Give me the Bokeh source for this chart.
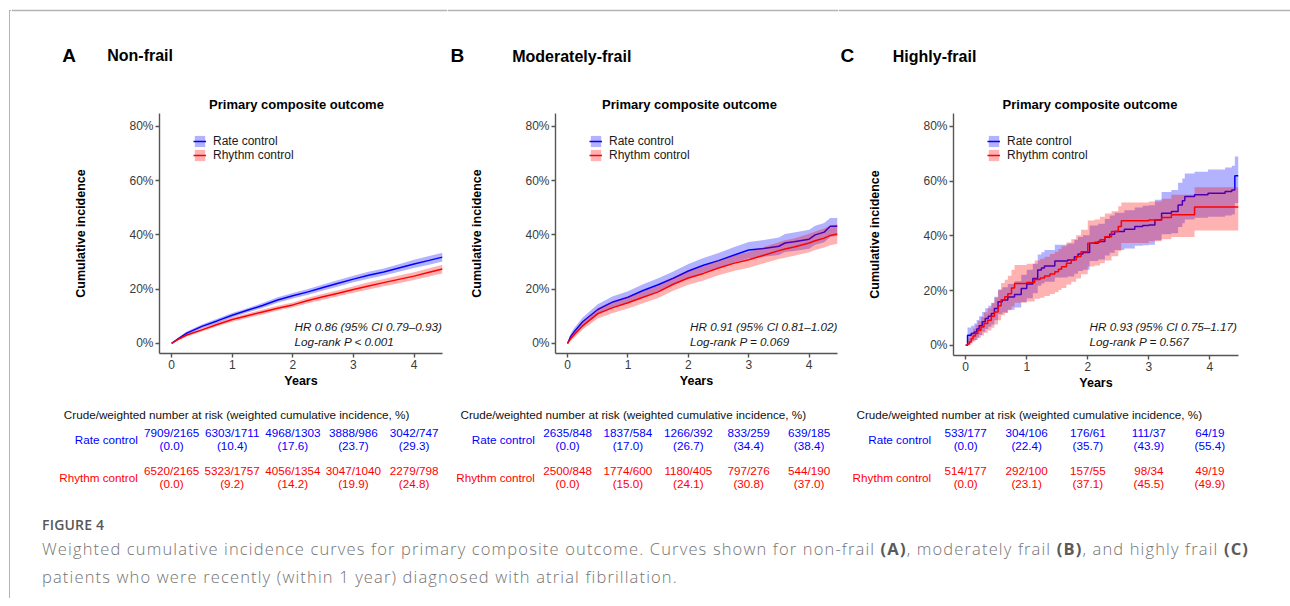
from bokeh.plotting import figure
from bokeh.models import Label, Legend, LegendItem, Div, Range1d, FixedTicker, PrintfTickFormatter, Span
from bokeh.core.properties import value
from bokeh.layouts import row, column
from bokeh.embed import file_html
from bokeh.resources import INLINE

# ---------------- data ----------------
panel_letters = ["A", "B", "C"]
panel_names = ["Non-frail", "Moderately-frail", "Highly-frail"]
plot_title = "Primary composite outcome"
group_names = ["Rate control", "Rhythm control"]
hr_texts = ["HR 0.86 (95% CI 0.79\u20130.93)", "HR 0.91 (95% CI 0.81\u20131.02)", "HR 0.93 (95% CI 0.75\u20131.17)"]
p_texts = ["Log-rank P < 0.001", "Log-rank P = 0.069", "Log-rank P = 0.567"]
x_ticks = [0, 1, 2, 3, 4]
y_ticks = [0, 20, 40, 60, 80]
risk_header = "Crude/weighted number at risk (weighted cumulative incidence, %)"
risk_years = [0, 1, 2, 3, 4]

A_rate_n = ["7909/2165", "6303/1711", "4968/1303", "3888/986", "3042/747"]
A_rate_ci = ["(0.0)", "(10.4)", "(17.6)", "(23.7)", "(29.3)"]
A_rhythm_n = ["6520/2165", "5323/1757", "4056/1354", "3047/1040", "2279/798"]
A_rhythm_ci = ["(0.0)", "(9.2)", "(14.2)", "(19.9)", "(24.8)"]
B_rate_n = ["2635/848", "1837/584", "1266/392", "833/259", "639/185"]
B_rate_ci = ["(0.0)", "(17.0)", "(26.7)", "(34.4)", "(38.4)"]
B_rhythm_n = ["2500/848", "1774/600", "1180/405", "797/276", "544/190"]
B_rhythm_ci = ["(0.0)", "(15.0)", "(24.1)", "(30.8)", "(37.0)"]
C_rate_n = ["533/177", "304/106", "176/61", "111/37", "64/19"]
C_rate_ci = ["(0.0)", "(22.4)", "(35.7)", "(43.9)", "(55.4)"]
C_rhythm_n = ["514/177", "292/100", "157/55", "98/34", "49/19"]
C_rhythm_ci = ["(0.0)", "(23.1)", "(37.1)", "(45.5)", "(49.9)"]

# Panel A (non-frail) curves, % cumulative incidence
A_t = [0, 0.1, 0.25, 0.5, 0.75, 1, 1.25, 1.5, 1.75, 2, 2.25, 2.5, 2.75, 3, 3.25, 3.5, 3.75, 4, 4.25, 4.47]
A_rate = [0, 1.6, 3.8, 6.3, 8.3, 10.4, 12.2, 14.0, 16.0, 17.6, 19.0, 20.6, 22.2, 23.7, 25.1, 26.3, 27.8, 29.3, 30.6, 31.8]
A_rate_lo = [0, 1.2, 3.2, 5.6, 7.5, 9.6, 11.4, 13.1, 15.0, 16.6, 17.9, 19.5, 21.0, 22.5, 23.8, 25.0, 26.4, 27.8, 29.0, 30.2]
A_rate_hi = [0, 2.0, 4.4, 7.0, 9.1, 11.2, 13.0, 14.9, 17.0, 18.6, 20.1, 21.7, 23.4, 24.9, 26.4, 27.6, 29.2, 30.8, 32.2, 33.4]
A_rhythm = [0, 1.4, 3.1, 5.0, 7.0, 8.8, 10.2, 11.6, 13.0, 14.2, 15.8, 17.2, 18.5, 19.9, 21.2, 22.4, 23.6, 24.8, 26.2, 27.4]
A_rhythm_lo = [0, 1.0, 2.6, 4.4, 6.3, 8.0, 9.4, 10.7, 12.1, 13.3, 14.8, 16.1, 17.4, 18.7, 19.9, 21.1, 22.2, 23.4, 24.7, 25.8]
A_rhythm_hi = [0, 1.8, 3.6, 5.6, 7.7, 9.6, 11.0, 12.5, 13.9, 15.1, 16.8, 18.3, 19.6, 21.1, 22.5, 23.7, 25.0, 26.2, 27.7, 29.0]

# Panel B (moderately frail)
B_t = [0, 0.05, 0.1, 0.25, 0.5, 0.75, 1, 1.25, 1.5, 1.75, 2, 2.25, 2.5, 2.75, 3, 3.25, 3.5, 3.6, 3.75, 4, 4.1, 4.25, 4.35, 4.47]
B_rate = [0, 2.5, 4.0, 8.0, 12.5, 15.3, 17.0, 19.5, 21.6, 24.0, 26.7, 28.8, 30.5, 32.5, 34.4, 35.0, 35.8, 37.0, 37.5, 38.4, 40.0, 41.0, 43.2, 43.2]
B_rate_lo = [0, 1.4, 2.6, 6.4, 10.6, 13.2, 14.8, 17.2, 19.2, 21.5, 24.1, 26.1, 27.7, 29.6, 31.4, 31.9, 32.6, 33.7, 34.1, 34.9, 36.4, 37.3, 39.3, 39.6]
B_rate_hi = [0, 3.6, 5.4, 9.6, 14.4, 17.4, 19.2, 21.8, 24.0, 26.5, 29.3, 31.5, 33.3, 35.4, 37.4, 38.1, 39.0, 40.3, 40.9, 41.9, 43.4, 44.4, 46.2, 46.2]
B_rhythm = [0, 1.8, 3.0, 6.5, 11.0, 13.2, 15.0, 17.0, 19.0, 21.8, 24.1, 25.8, 27.8, 29.5, 30.8, 32.5, 34.2, 34.8, 35.5, 37.0, 37.8, 38.8, 39.8, 40.3]
B_rhythm_lo = [0, 0.9, 1.8, 5.1, 9.2, 11.2, 12.9, 14.8, 16.7, 19.4, 21.6, 23.2, 25.1, 26.7, 27.9, 29.5, 31.1, 31.6, 32.3, 33.6, 34.4, 35.3, 36.2, 36.7]
B_rhythm_hi = [0, 2.7, 4.2, 7.9, 12.8, 15.2, 17.1, 19.2, 21.3, 24.2, 26.6, 28.4, 30.5, 32.3, 33.7, 35.5, 37.3, 38.0, 38.7, 40.4, 41.2, 42.3, 43.4, 43.9]

# Panel C (highly frail), step curves
C_rate_t = [0, 0.03, 0.09, 0.14, 0.18, 0.22, 0.27, 0.32, 0.37, 0.42, 0.47, 0.53, 0.60, 0.69, 0.80, 0.91,
            1.00, 1.10, 1.18, 1.24, 1.29, 1.46, 1.67, 1.78, 1.84, 1.92, 2.03, 2.17, 2.28, 2.36, 2.44, 2.60,
            2.77, 2.90, 3.00, 3.10, 3.21, 3.37, 3.48, 3.55, 3.59, 3.75, 3.97, 4.25, 4.36, 4.41, 4.47]
C_rate = [0, 3.7, 4.3, 4.9, 6.0, 7.2, 8.6, 9.8, 10.6, 11.6, 13.5, 15.9, 16.6, 17.7, 18.6, 20.8,
          22.4, 24.4, 27.5, 28.3, 29.0, 30.8, 31.2, 32.4, 33.4, 33.9, 37.3, 37.9, 39.5, 40.6, 41.6, 42.4,
          43.4, 43.8, 44.0, 45.8, 48.3, 48.9, 51.3, 52.8, 54.4, 55.0, 55.6, 56.2, 56.8, 62.0, 62.0]
C_rate_lo = [0, 1.0, 1.5, 2.0, 2.8, 3.8, 5.0, 6.0, 6.8, 7.6, 9.2, 11.4, 12.0, 13.0, 13.8, 15.8,
             17.2, 19.0, 21.8, 22.6, 23.2, 24.8, 25.2, 26.2, 27.2, 27.6, 30.8, 31.4, 32.8, 33.8, 34.8, 35.4,
             36.4, 36.6, 36.8, 38.4, 40.6, 41.0, 43.2, 44.6, 46.0, 46.6, 47.0, 47.4, 47.8, 52.0, 52.0]
C_rate_hi = [0, 6.5, 7.2, 8.0, 9.3, 10.6, 12.2, 13.6, 14.5, 15.6, 17.8, 20.4, 21.2, 22.4, 23.4, 25.8,
             27.6, 29.8, 33.2, 34.0, 34.8, 36.8, 37.2, 38.6, 39.6, 40.2, 43.8, 44.4, 46.2, 47.4, 48.4, 49.4,
             50.4, 51.0, 51.2, 53.2, 56.0, 56.8, 59.4, 61.0, 62.8, 63.4, 64.2, 65.0, 65.6, 69.0, 69.0]
C_rhythm_t = [0, 0.03, 0.06, 0.09, 0.12, 0.16, 0.20, 0.25, 0.30, 0.36, 0.42, 0.47, 0.53, 0.58, 0.64, 0.69,
              0.75, 0.80, 1.00, 1.13, 1.22, 1.29, 1.38, 1.46, 1.52, 1.57, 1.65, 1.73, 1.81, 1.89, 2.00,
              2.11, 2.20, 2.28, 2.39, 2.50, 2.55, 3.00, 3.21, 3.37, 3.75, 4.47]
C_rhythm = [0, 0.5, 1.2, 2.4, 3.4, 4.3, 5.5, 6.7, 8.0, 9.2, 10.6, 12.2, 14.5, 16.7, 17.8, 18.9,
            21.0, 22.6, 23.0, 24.1, 24.6, 25.3, 26.1, 26.9, 27.8, 28.7, 30.0, 31.2, 32.5, 34.2, 37.3,
            37.7, 38.6, 39.7, 41.6, 43.4, 45.5, 45.8, 46.7, 47.7, 50.5, 50.5]
C_rhythm_lo = [0, 0, 0.2, 0.8, 1.4, 2.0, 2.8, 3.6, 4.6, 5.4, 6.4, 7.6, 9.2, 11.0, 11.8, 12.8,
               14.2, 15.6, 16.0, 17.0, 17.4, 18.0, 18.8, 19.4, 20.2, 21.0, 22.2, 23.2, 24.4, 26.0, 28.8,
               29.2, 30.0, 31.0, 32.6, 34.4, 37.4, 38.0, 38.8, 39.6, 42.0, 42.0]
C_rhythm_hi = [0, 2.5, 3.5, 5.0, 6.2, 7.4, 8.8, 10.4, 12.0, 13.6, 15.4, 17.4, 20.2, 22.8, 24.0, 25.4,
               27.6, 29.4, 29.8, 31.0, 31.6, 32.4, 33.4, 34.2, 35.2, 36.2, 37.6, 38.8, 40.2, 42.2, 45.6,
               46.0, 47.0, 48.2, 49.0, 50.8, 52.2, 52.6, 53.6, 55.0, 57.8, 58.0]

# ---------------- styling / layout constants ----------------
BLUE = "#0000FF"
RED = "#FF0000"
FONT = "Liberation Sans"
X0, X1 = -0.2, 4.47
Y0, Y1 = -3.7, 84.7
HEAD_H = 113        # page y 0..113
KM_H = 279          # page y 113..392
TAB_H = 108         # page y 392..500
KM_TOP = 0          # frame top at page y 113

panels = [
    dict(fig_left=11, w=436, bl=148, fw=283, fh=240,
         letter=(61.7, 55), name=(106.7, 55), title=(296.0, 104), hr=294.0,
         header=(63.3, 414), rowlab=137.3, step=False,
         rate=(A_t, A_rate, A_rate_lo, A_rate_hi), rhythm=(A_t, A_rhythm, A_rhythm_lo, A_rhythm_hi),
         risk=(A_rate_n, A_rate_ci, A_rhythm_n, A_rhythm_ci)),
    dict(fig_left=447, w=391, bl=108, fw=282, fh=240,
         letter=(450.0, 55), name=(511.7, 56), title=(689.0, 104), hr=689.5,
         header=(460.0, 414), rowlab=534.3, step=False,
         rate=(B_t, B_rate, B_rate_lo, B_rate_hi), rhythm=(B_t, B_rhythm, B_rhythm_lo, B_rhythm_hi),
         risk=(B_rate_n, B_rate_ci, B_rhythm_n, B_rhythm_ci)),
    dict(fig_left=838, w=452, bl=115, fw=285, fh=242,
         letter=(840.0, 55), name=(892.3, 56), title=(1089.5, 104), hr=1089.0,
         header=(856.0, 414), rowlab=930.7, step=True,
         rate=(C_rate_t, C_rate, C_rate_lo, C_rate_hi), rhythm=(C_rhythm_t, C_rhythm, C_rhythm_lo, C_rhythm_hi),
         risk=(C_rate_n, C_rate_ci, C_rhythm_n, C_rhythm_ci)),
]


def bare_fig(w, h, xr, yr):
    f = figure(width=w, height=h, output_backend="svg", toolbar_location=None,
               x_range=xr, y_range=yr, x_axis_location=None, y_axis_location=None,
               min_border=0, frame_align=False)
    f.min_border_left = f.min_border_right = f.min_border_top = f.min_border_bottom = 0
    f.outline_line_color = None
    f.grid.visible = False
    return f


def add_text(f, xs, ys, texts, size, style="normal", align="left", color="black"):
    f.text(x=xs, y=ys, text=texts, text_font=value(FONT), text_font_size=value(size),
           text_font_style=style, text_align=align, text_baseline="middle", text_color=color)


def make_panel(i, g):
    bl, fw, w = g["bl"], g["fw"], g["w"]
    br = w - bl - fw
    sc = (X1 - X0) / fw
    fl_page = g["fig_left"] + bl

    def dx(px):
        return X0 + (px - fl_page) * sc

    aux_xr = Range1d(X0 - bl * sc, X1 + br * sc)

    # ---- header (panel letter, name, plot title) ----
    head = bare_fig(w, HEAD_H, aux_xr, Range1d(HEAD_H, 0))
    head.add_layout(Span(location=10, dimension="width", line_color="#b4b4b4", line_width=1.5))
    add_text(head, [dx(g["letter"][0])], [g["letter"][1]], [panel_letters[i]], "19px", "bold")
    add_text(head, [dx(g["name"][0])], [g["name"][1]], [panel_names[i]], "16px", "bold")
    add_text(head, [dx(g["title"][0])], [g["title"][1]], [plot_title], "13px", "bold", align="center")

    # ---- KM plot ----
    p = figure(width=w, height=KM_H, output_backend="svg", toolbar_location=None,
               x_range=Range1d(X0, X1), y_range=Range1d(Y0, Y1), frame_align=False,
               min_border_left=bl, min_border_right=br,
               min_border_top=KM_TOP, min_border_bottom=KM_H - KM_TOP - g["fh"])
    p.min_border_top = KM_TOP
    p.outline_line_color = None
    p.grid.visible = False
    for ax in (p.xaxis[0], p.yaxis[0]):
        ax.axis_line_color = "#555555"
        ax.axis_line_width = 1.4
        ax.major_tick_line_color = "#555555"
        ax.major_tick_line_width = 1.4
        ax.major_tick_out = 4
        ax.major_tick_in = 0
        ax.minor_tick_line_color = None
        ax.major_label_text_font = FONT
        ax.major_label_text_font_size = "12px"
        ax.major_label_text_color = "#3a3a3a"
        ax.axis_label_text_font = FONT
        ax.axis_label_text_font_size = "12.5px"
        ax.axis_label_text_font_style = "bold"
        ax.axis_label_text_color = "black"
    p.xaxis.ticker = FixedTicker(ticks=x_ticks)
    p.yaxis.ticker = FixedTicker(ticks=y_ticks)
    p.yaxis.formatter = PrintfTickFormatter(format="%d%%")
    p.xaxis.axis_label = "Years"
    p.yaxis.axis_label = "Cumulative incidence"
    p.xaxis.major_label_standoff = 2
    p.xaxis.axis_label_standoff = 2
    p.yaxis.major_label_standoff = 2
    p.yaxis.axis_label_standoff = 38

    t1, v1, lo1, hi1 = g["rate"]
    t2, v2, lo2, hi2 = g["rhythm"]
    if g["step"]:
        b1 = p.varea_step(x=t1, y1=lo1, y2=hi1, step_mode="after", fill_color=BLUE, fill_alpha=0.3)
        l1 = p.step(t1, v1, mode="after", line_color=BLUE, line_width=1.5)
        b2 = p.varea_step(x=t2, y1=lo2, y2=hi2, step_mode="after", fill_color=RED, fill_alpha=0.3)
        l2 = p.step(t2, v2, mode="after", line_color=RED, line_width=1.5)
    else:
        b1 = p.varea(x=t1, y1=lo1, y2=hi1, fill_color=BLUE, fill_alpha=0.3)
        l1 = p.line(t1, v1, line_color=BLUE, line_width=1.5)
        b2 = p.varea(x=t2, y1=lo2, y2=hi2, fill_color=RED, fill_alpha=0.3)
        l2 = p.line(t2, v2, line_color=RED, line_width=1.5)

    legend = Legend(items=[LegendItem(label=group_names[0], renderers=[b1, l1]),
                           LegendItem(label=group_names[1], renderers=[b2, l2])],
                    location=(34, g["fh"] - 21 - 28), orientation="vertical",
                    glyph_width=13, glyph_height=14, label_height=14, label_standoff=7,
                    spacing=0, padding=0, margin=0, border_line_color=None,
                    background_fill_alpha=0, label_text_font=FONT, label_text_font_size="12px",
                    label_text_color="#1a1a1a")
    p.add_layout(legend)

    frame_top_page = HEAD_H + KM_TOP

    def dy(py):
        return Y1 - (py - frame_top_page) / g["fh"] * (Y1 - Y0)

    for txt, py in ((hr_texts[i], 326.0), (p_texts[i], 340.7)):
        p.add_layout(Label(x=dx(g["hr"]), y=dy(py), text=txt, text_font=FONT, text_font_size="11.7px",
                           text_font_style="italic", text_align="left", text_baseline="middle",
                           text_color="#1a1a1a"))

    # ---- risk table ----
    tab = bare_fig(w, TAB_H, aux_xr, Range1d(500, 392))
    add_text(tab, [dx(g["header"][0])], [414.0], [risk_header], "11.7px", color="#111111")
    add_text(tab, [dx(g["rowlab"])], [439.3], [group_names[0]], "11.7px", align="right", color=BLUE)
    add_text(tab, [dx(g["rowlab"])], [477.3], [group_names[1]], "11.7px", align="right", color=RED)
    rn, rc, hn, hc = g["risk"]
    nyr = len(risk_years)
    add_text(tab, risk_years, [432.3] * nyr, rn, "11.7px", align="center", color=BLUE)
    add_text(tab, risk_years, [445.3] * nyr, rc, "11.7px", align="center", color=BLUE)
    add_text(tab, risk_years, [470.3] * nyr, hn, "11.7px", align="center", color=RED)
    add_text(tab, risk_years, [483.3] * nyr, hc, "11.7px", align="center", color=RED)

    return column(head, p, tab, spacing=0)


cols = [make_panel(i, g) for i, g in enumerate(panels)]

left_div = Div(width=11, height=598, margin=(0, 0, 0, 0),
               text='<div style="margin:10px 0 0 9px;width:2px;height:588px;border-left:1.5px solid #b4b4b4;'
                    'border-top:1.5px solid #b4b4b4;box-sizing:border-box"></div>')
caption_html = (
    '<div style="font-family:\'Open Sans\';padding:15px 0 0 31px;white-space:nowrap;">'
    '<div style="font-size:14px;line-height:20px;font-weight:600;color:#585858;letter-spacing:0.2px;">FIGURE 4</div>'
    '<div style="font-size:16.5px;line-height:28px;color:#737373;letter-spacing:1.15px;font-weight:300;">'
    'Weighted cumulative incidence curves for primary composite outcome. Curves shown for non-frail '
    '<b style="color:#5a5a5a;font-weight:700">(A)</b>, moderately frail <b style="color:#5a5a5a;font-weight:700">(B)</b>, and highly frail '
    '<b style="color:#5a5a5a;font-weight:700">(C)</b><br>'
    'patients who were recently (within 1 year) diagnosed with atrial fibrillation.</div></div>'
)
caption_div = Div(width=1279, height=98, margin=(0, 0, 0, 0), text=caption_html)

layout = row(left_div, column(row(*cols, spacing=0), caption_div, spacing=0), spacing=0)

open("out.html", "w").write(file_html(layout, INLINE))
